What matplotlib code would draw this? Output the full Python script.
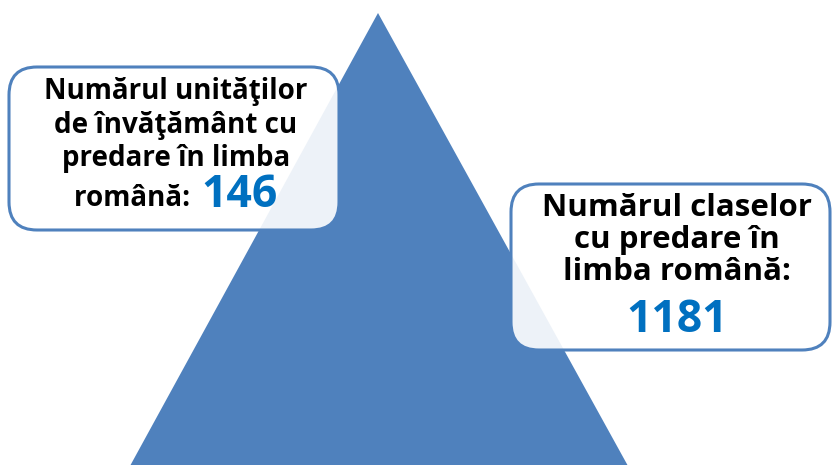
import matplotlib
matplotlib.use("Agg")
import matplotlib.pyplot as plt
from matplotlib.patches import Polygon, FancyBboxPatch

labels = ["Numărul unităţilor\nde învăţământ cu\npredare în limba", "Numărul claselor\ncu predare în\nlimba română:"]
values = [146, 1181]

blue = "#4F81BD"
num_blue = "#0070C0"

fig = plt.figure(figsize=(8.32, 4.65), dpi=100)
ax = fig.add_axes([0, 0, 1, 1])
ax.set_xlim(0, 832)
ax.set_ylim(465, 0)
ax.axis("off")

# big triangle
tri = Polygon([[130, 466], [378, 13], [628, 466]], closed=True, facecolor=blue, edgecolor="none")
ax.add_patch(tri)


def callout(x, y, w, h):
    ax.add_patch(FancyBboxPatch((x, y), w, h, boxstyle="round,pad=0,rounding_size=28",
                                facecolor="white", alpha=0.9, edgecolor="none", zorder=2))
    ax.add_patch(FancyBboxPatch((x, y), w, h, boxstyle="round,pad=0,rounding_size=28",
                                facecolor="none", edgecolor=blue, lw=2.2, zorder=3))


# left callout
callout(9, 67, 330, 163)
ax.text(176, 125, labels[0], ha="center", va="center", fontsize=20, fontweight="bold",
        family="Open Sans", linespacing=1.2, zorder=4)
ax.text(197, 198, "română: ", ha="right", va="center", fontsize=20, fontweight="bold",
        family="Open Sans", zorder=4)
ax.text(201, 195, str(values[0]), ha="left", va="center", fontsize=32, fontweight="bold",
        family="Open Sans", color=num_blue, zorder=4)

# right callout
callout(511, 184, 319, 166)
ax.text(677, 240, labels[1], ha="center", va="center", fontsize=22.5, fontweight="bold",
        family="Open Sans", linespacing=1.1, zorder=4)
ax.text(677, 320, str(values[1]), ha="center", va="center", fontsize=32, fontweight="bold",
        family="Open Sans", color=num_blue, zorder=4)

fig.savefig("out.png", dpi=100)
